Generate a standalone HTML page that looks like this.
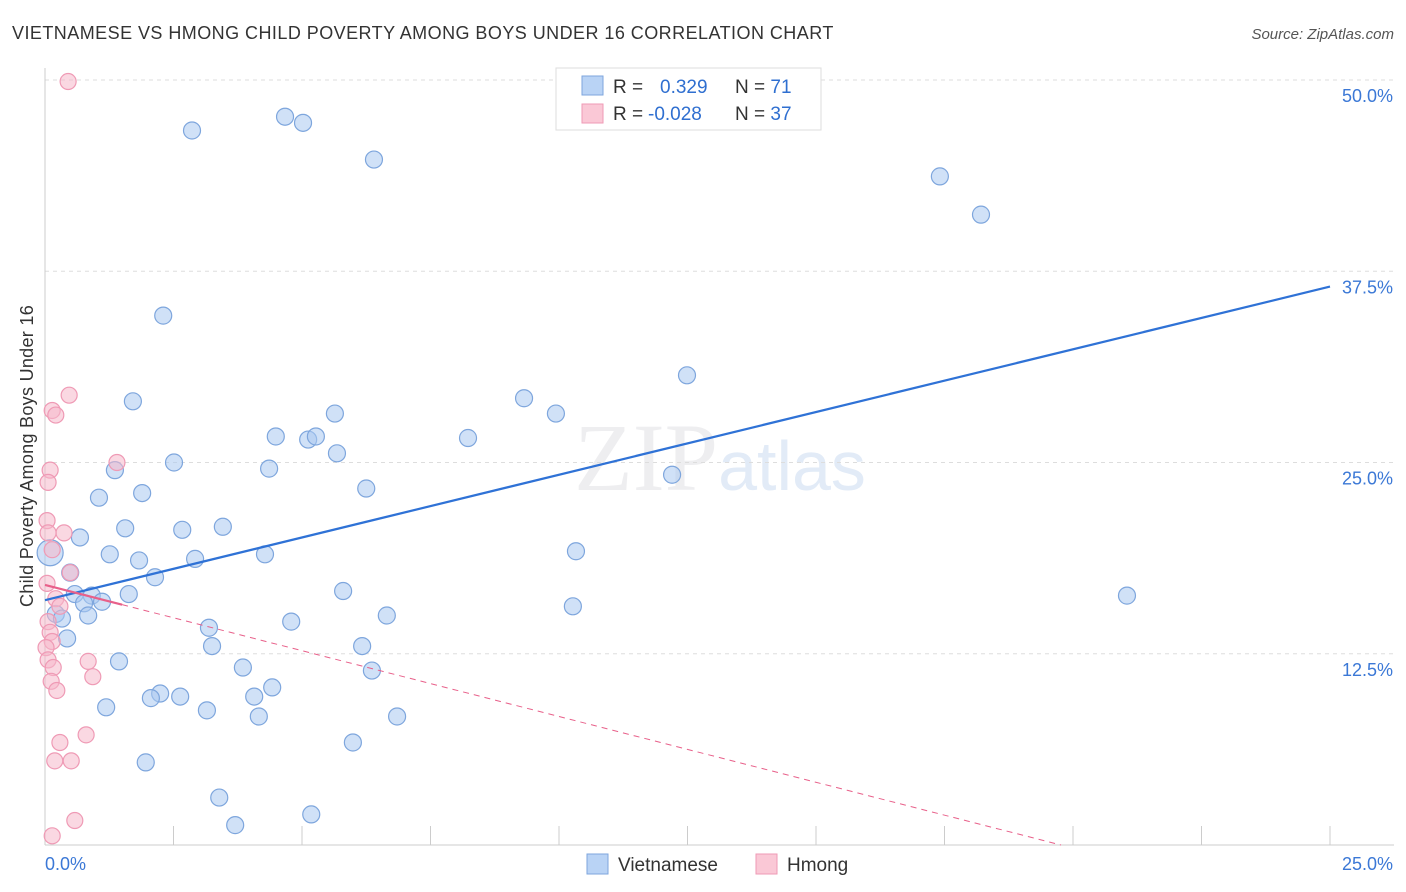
<!DOCTYPE html>
<html><head><meta charset="utf-8"><style>
body{margin:0;background:#fff;font-family:"Liberation Sans",sans-serif}
svg{display:block}
</style></head><body>
<svg id="chart" width="1406" height="892" viewBox="0 0 1406 892">
<text x="12" y="39" font-size="18" fill="#333" letter-spacing="0.45">VIETNAMESE VS HMONG CHILD POVERTY AMONG BOYS UNDER 16 CORRELATION CHART</text>
<text x="1394" y="39" font-size="15" fill="#555" text-anchor="end" font-style="italic">Source: ZipAtlas.com</text>
<text x="720" y="490" font-size="96" text-anchor="middle" fill="#eeeef0" font-family="Liberation Serif">ZIP<tspan fill="#e2ebf7" font-family="Liberation Sans" font-size="70">atlas</tspan></text>
<g id="grid"></g>
<g id="axes"></g>
<g id="marks"></g>
<text transform="translate(33,456) rotate(-90)" font-size="18" fill="#333" text-anchor="middle" letter-spacing="0.3">Child Poverty Among Boys Under 16</text>
<g>
<rect x="556" y="68" width="265" height="62" fill="#fff" stroke="#ddd"/>
<rect x="582" y="76" width="21" height="19" fill="#b9d3f5" stroke="#7ea6dd"/>
<rect x="582" y="104" width="21" height="19" fill="#fac8d6" stroke="#ef9ab5"/>
<text x="613" y="93" font-size="19" fill="#333">R = <tspan fill="#2f6fd0" x="660">0.329</tspan><tspan fill="#333" x="735">N = </tspan><tspan fill="#2f6fd0">71</tspan></text>
<text x="613" y="120" font-size="19" fill="#333">R = <tspan fill="#2f6fd0" x="648">-0.028</tspan><tspan fill="#333" x="735">N = </tspan><tspan fill="#2f6fd0">37</tspan></text>
</g>
<g>
<rect x="587" y="854" width="21" height="20" fill="#b9d3f5" stroke="#7ea6dd"/>
<text x="618" y="871" font-size="19" fill="#333">Vietnamese</text>
<rect x="756" y="854" width="21" height="20" fill="#fac8d6" stroke="#ef9ab5"/>
<text x="787" y="871" font-size="19" fill="#333">Hmong</text>
</g>
</svg>
<script>
const yTicks=[12.5,25,37.5,50];
const yTickLabels=["12.5%","25.0%","37.5%","50.0%"];
const xTickLabels=["0.0%","25.0%"];
const viX=[2.86,4.67,5.02,6.40,17.41,18.21,2.30,12.49,1.71,9.32,9.94,5.64,4.49,5.12,5.27,8.23,5.68,2.51,4.36,1.36,12.20,6.25,1.89,1.05,3.46,1.56,2.67,0.68,0.10,1.26,4.28,10.33,1.83,2.92,0.49,2.14,5.80,21.05,0.58,0.91,1.63,1.11,0.76,10.27,0.21,0.33,0.84,6.65,4.79,3.19,0.43,3.25,6.17,1.44,3.85,6.36,4.42,2.24,2.06,2.63,4.07,1.19,3.15,4.16,6.85,5.99,1.96,3.39,3.70,5.18];
const viY=[46.7,47.6,47.2,44.8,43.7,41.2,34.6,30.7,29.0,29.2,28.2,28.2,26.7,26.5,26.7,26.6,25.6,25.0,24.6,24.5,24.2,23.3,23.0,22.7,20.8,20.7,20.6,20.1,19.1,19.0,19.0,19.2,18.6,18.7,17.8,17.5,16.6,16.3,16.4,16.3,16.4,15.9,15.8,15.6,15.1,14.8,15.0,15.0,14.6,14.2,13.5,13.0,13.0,12.0,11.6,11.4,10.3,9.9,9.6,9.7,9.7,9.0,8.8,8.4,8.4,6.7,5.4,3.1,1.3,2.0];
const hmX=[0.45,0.47,0.14,0.21,1.40,0.10,0.06,0.04,0.37,0.06,0.14,0.49,0.04,0.21,0.29,0.06,0.10,0.14,0.02,0.84,0.06,0.16,0.93,0.12,0.23,0.80,0.29,0.19,0.51,0.58,0.14];
const hmY=[49.9,29.4,28.4,28.1,25.0,24.5,23.7,21.2,20.4,20.4,19.3,17.8,17.1,16.1,15.6,14.6,13.9,13.3,12.9,12.0,12.1,11.6,11.0,10.7,10.1,7.2,6.7,5.5,5.5,1.6,0.6];
const viLine=[16.0,36.5];
const hmLine=[17.0,-0.86];
const X=v=>45+v*51.4, Y=v=>845-v*15.3;
const NS="http://www.w3.org/2000/svg";
function mk(t,a,p){const e=document.createElementNS(NS,t);for(const k in a)e.setAttribute(k,a[k]);p.appendChild(e);return e;}
const grid=document.getElementById('grid'),axes=document.getElementById('axes'),marks=document.getElementById('marks');
yTicks.forEach((t,i)=>{
 const l=mk('line',{x1:45,x2:1394,y1:Y(t),y2:Y(t),stroke:'#ddd','stroke-dasharray':'4,4'},grid);
 
 
 const tx=mk('text',{x:1393,y:Y(t)+22,'font-size':18,fill:'#3b78d6','text-anchor':'end'},axes);
 tx.textContent=yTickLabels[i];
 
 
});
const ax=mk('line',{x1:45,x2:1394,y1:845,y2:845,stroke:'#ccc'},axes);


const ay=mk('line',{x1:45,x2:45,y1:68,y2:845,stroke:'#ccc'},axes);


for(let i=0;i<=10;i++){const t=mk('line',{x1:X(i*2.5),x2:X(i*2.5),y1:826,y2:845,stroke:'#ccc'},axes);
 
 }
[[0,45,'start'],[25,1393,'end']].forEach((d,i)=>{const t=mk('text',{x:d[1],y:870,'font-size':18,fill:'#3b78d6','text-anchor':d[2]},axes);t.textContent=xTickLabels[i];
 
 });
viX.forEach((x,i)=>{const c=mk('circle',{cx:X(x),cy:Y(viY[i]),r:i==28?13:8.5,fill:'rgba(169,200,240,0.55)',stroke:'#7ea6dd','stroke-width':1.2},marks);
 
 });
hmX.forEach((x,i)=>{const c=mk('circle',{cx:X(x),cy:Y(hmY[i]),r:8,fill:'rgba(246,184,203,0.55)',stroke:'#ef9ab5','stroke-width':1.2},marks);
 
 });
const bl=mk('line',{x1:X(0),y1:Y(viLine[0]),x2:X(25),y2:Y(viLine[1]),stroke:'#2f72d6','stroke-width':2.2},marks);


const xe=-hmLine[0]/hmLine[1];
const pd=mk('line',{x1:X(1.5),y1:Y(hmLine[0]+hmLine[1]*1.5),x2:X(xe),y2:Y(0),stroke:'#e8608a','stroke-width':1,'stroke-dasharray':'6,5'},marks);


const ps=mk('line',{x1:X(0),y1:Y(hmLine[0]),x2:X(1.5),y2:Y(hmLine[0]+hmLine[1]*1.5),stroke:'#e8608a','stroke-width':2.2},marks);


</script>
</body></html>
